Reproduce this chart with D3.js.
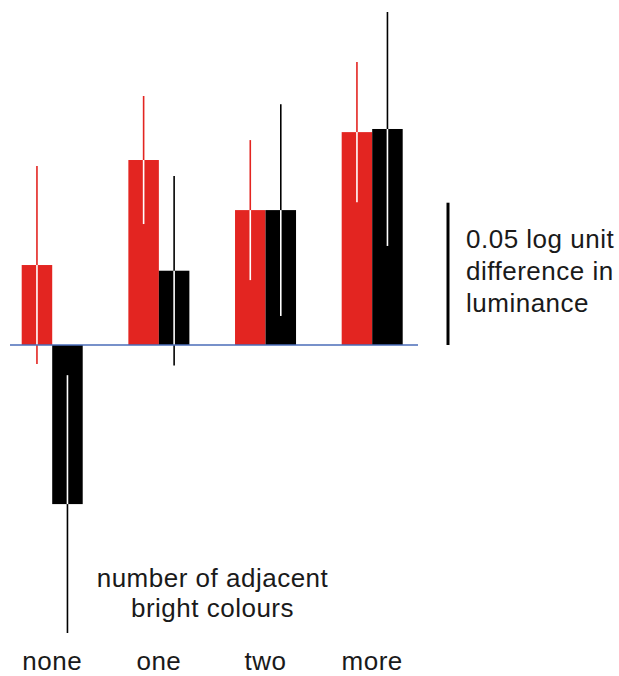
<!DOCTYPE html>
<html>
<head>
<meta charset="utf-8">
<script src="https://cdn.jsdelivr.net/npm/d3@7/dist/d3.min.js"></script>
<style>
  html, body { margin: 0; padding: 0; background: #fff; }
  svg { display: block; }
  text { font-family: "Liberation Sans", Arial, Helvetica, sans-serif; fill: #1a1a1a; }
</style>
</head>
<body>
<svg id="chart" width="619" height="676"></svg>
<script>
// ---- data (log units of luminance difference) ----
const categories = ["none", "one", "two", "more"];
const seriesNames = ["red", "black"];
const redValues   = [0.0281, 0.0650, 0.0474, 0.0748];
const redErrors   = [0.0348, 0.0225, 0.0246, 0.0246];
const blackValues = [-0.0559, 0.0261, 0.0474, 0.0759];
const blackErrors = [0.0453, 0.0333, 0.0372, 0.0411];
const scaleBarValue = 0.05;
const scaleBarLabel = ["0.05 log unit", "difference in", "luminance"];
const axisTitle = ["number of adjacent", "bright colours"];

const colors = { red: "#e32521", black: "#000000" };
const FS = 26, LS = 0.5;

const svg = d3.select("#chart");

// scales
const x = d3.scaleBand().domain(categories).range([21.7, 402.7]).paddingInner(0.428).paddingOuter(0);
const xs = d3.scaleBand().domain(seriesNames).range([0, x.bandwidth()]);
const y = d3.scaleLinear().domain([0, scaleBarValue]).range([345, 202.7]);

const data = [];
categories.forEach((c, i) => {
  data.push({ cat: c, s: "red", v: redValues[i], e: redErrors[i] });
  data.push({ cat: c, s: "black", v: blackValues[i], e: blackErrors[i] });
});

const g = svg.append("g");

// bars
g.selectAll("rect.bar").data(data).join("rect")
  .attr("class", "bar")
  .attr("x", d => x(d.cat) + xs(d.s))
  .attr("width", xs.bandwidth())
  .attr("y", d => y(Math.max(0, d.v)))
  .attr("height", d => Math.abs(y(d.v) - y(0)))
  .attr("fill", d => colors[d.s]);

// error bars: coloured full extent, white where inside the bar
const cx = d => x(d.cat) + xs(d.s) + xs.bandwidth() / 2;
g.selectAll("line.err").data(data).join("line")
  .attr("class", "err")
  .attr("x1", cx).attr("x2", cx)
  .attr("y1", d => y(d.v + d.e))
  .attr("y2", d => y(d.v - d.e))
  .attr("stroke", d => colors[d.s])
  .attr("stroke-width", 1.6);

g.selectAll("line.errin").data(data).join("line")
  .attr("class", "errin")
  .attr("x1", cx).attr("x2", cx)
  .attr("y1", d => y(d.v))
  .attr("y2", d => {
    const toward = d.v > 0 ? Math.max(0, d.v - d.e) : Math.min(0, d.v + d.e);
    return y(toward);
  })
  .attr("stroke", "#ffffff")
  .attr("stroke-width", 1.6);

// baseline
svg.append("line")
  .attr("x1", 10).attr("x2", 418)
  .attr("y1", y(0)).attr("y2", y(0))
  .attr("stroke", "#4a6db8").attr("stroke-width", 1.5);

// scale bar
svg.append("line")
  .attr("x1", 448).attr("x2", 448)
  .attr("y1", y(0)).attr("y2", y(scaleBarValue))
  .attr("stroke", "#000").attr("stroke-width", 3);

svg.append("text")
  .attr("x", 466).attr("y", 248.3)
  .attr("font-size", FS).attr("letter-spacing", LS)
  .selectAll("tspan").data(scaleBarLabel).join("tspan")
  .attr("x", 466).attr("dy", (d, i) => i === 0 ? 0 : 32)
  .text(d => d);

// axis title
svg.append("text")
  .attr("x", 212.5).attr("y", 586.7)
  .attr("font-size", FS).attr("letter-spacing", LS).attr("text-anchor", "middle")
  .selectAll("tspan").data(axisTitle).join("tspan")
  .attr("x", 212.5).attr("dy", (d, i) => i === 0 ? 0 : 30)
  .text(d => d);

// category labels via axis
const axis = d3.axisBottom(x).tickSize(0).tickPadding(0);
const ag = svg.append("g").attr("transform", "translate(0,650)").call(axis);
ag.select(".domain").remove();
ag.selectAll("text")
  .attr("font-size", FS)
  .attr("letter-spacing", LS)
  .attr("font-family", "'Liberation Sans', Arial, Helvetica, sans-serif")
  .attr("fill", "#1a1a1a")
  .attr("dy", 0).attr("y", 20);
</script>
</body>
</html>
